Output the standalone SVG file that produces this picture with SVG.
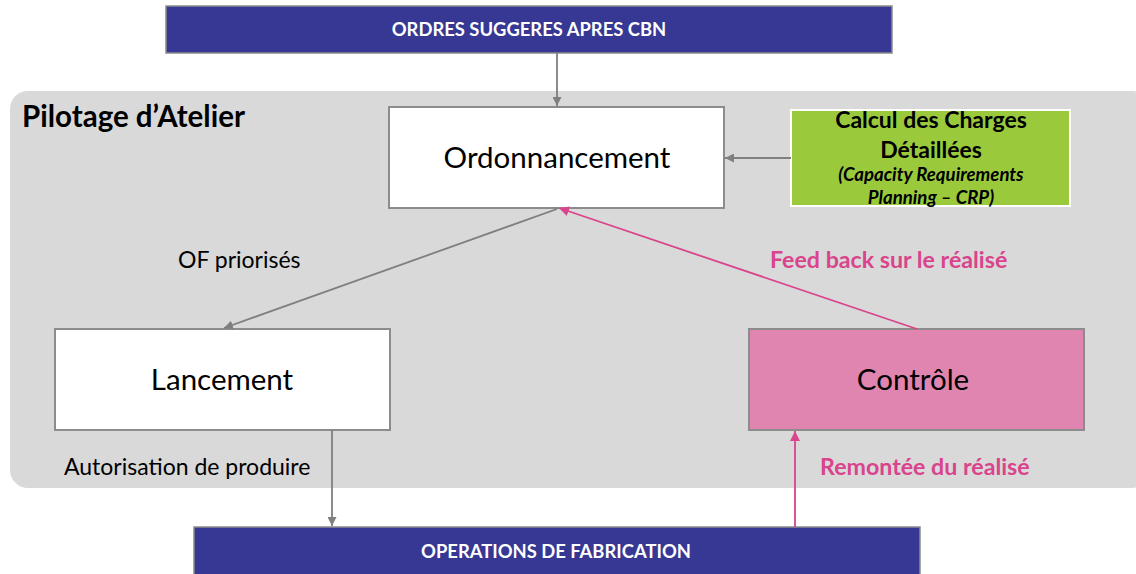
<svg xmlns="http://www.w3.org/2000/svg" width="1136" height="574" viewBox="0 0 1136 574">
  <defs>
    <marker id="arrGray" viewBox="0 0 10 10" refX="10" refY="5" markerWidth="9" markerHeight="9" markerUnits="userSpaceOnUse" orient="auto">
      <path d="M0,0 L10,5 L0,10 z" fill="#7f7f7f"/>
    </marker>
    <marker id="arrPink" viewBox="0 0 10 10" refX="10" refY="5" markerWidth="10" markerHeight="10" markerUnits="userSpaceOnUse" orient="auto">
      <path d="M0,0 L10,5 L0,10 z" fill="#d9448c"/>
    </marker>
  </defs>
  <style>
    text { font-family: Lato, "Open Sans", "Liberation Sans", sans-serif; }
    .band { fill: #363893; stroke: #8c8c8c; stroke-width: 1.5; }
    .bandText { fill: #ffffff; font-weight: bold; font-size: 18.4px; text-anchor: middle; }
    .box { stroke: #8c8c8c; stroke-width: 2; }
    .boxText { fill: #000000; font-size: 29.5px; text-anchor: middle; }
    .label { fill: #000000; font-size: 23px; }
    .pinkLabel { fill: #d9448c; font-size: 23.2px; font-weight: bold; }
    .crpTitle { fill: #000000; font-size: 23px; font-weight: bold; text-anchor: middle; }
    .crpSub { fill: #000000; font-size: 18.6px; font-weight: bold; font-style: italic; text-anchor: middle; }
    .gray { stroke: #7f7f7f; stroke-width: 1.8; fill: none; }
    .pink { stroke: #d9448c; stroke-width: 1.8; fill: none; }
  </style>

  <rect width="1136" height="574" fill="#ffffff"/>

  <!-- workshop control area -->
  <g id="pilotage">
    <rect x="10" y="91" width="1140" height="397" rx="18" ry="18" fill="#d9d9d9"/>
    <text x="22" y="127" font-size="29.5" font-weight="bold" fill="#000">Pilotage d’Atelier</text>
  </g>

  <g id="ordres">
    <rect class="band" x="166" y="6" width="726" height="47"/>
    <text class="bandText" x="529" y="36">ORDRES SUGGERES APRES CBN</text>
  </g>

  <g id="ordonnancement">
    <rect class="box" x="389" y="107" width="335" height="101" fill="#ffffff"/>
    <text class="boxText" x="557" y="168">Ordonnancement</text>
  </g>

  <g id="crp">
    <rect x="791" y="110" width="279" height="96" fill="#9aca3c" stroke="#ffffff" stroke-width="2"/>
    <text class="crpTitle" x="931" y="128">Calcul des Charges</text>
    <text class="crpTitle" x="931" y="158">Détaillées</text>
    <text class="crpSub" x="931" y="181">(Capacity Requirements</text>
    <text class="crpSub" x="931" y="204">Planning – CRP)</text>
  </g>

  <g id="lancement">
    <rect class="box" x="55" y="329" width="335" height="101" fill="#ffffff"/>
    <text class="boxText" x="222" y="390">Lancement</text>
  </g>

  <g id="controle">
    <rect class="box" x="749" y="329" width="335" height="101" fill="#e085b0"/>
    <text class="boxText" x="913" y="390">Contrôle</text>
  </g>

  <g id="operations">
    <rect class="band" x="194" y="527" width="726" height="48"/>
    <text class="bandText" x="556" y="558">OPERATIONS DE FABRICATION</text>
  </g>

  <g id="connectors">
    <line class="gray" x1="557" y1="53" x2="557" y2="106" marker-end="url(#arrGray)"/>
    <line class="gray" x1="791" y1="158" x2="725" y2="158" marker-end="url(#arrGray)"/>
    <line class="gray" x1="557" y1="209" x2="224" y2="328" marker-end="url(#arrGray)"/>
    <line class="gray" x1="332" y1="430" x2="332" y2="526" marker-end="url(#arrGray)"/>
    <line class="pink" x1="917" y1="329" x2="559" y2="208" marker-end="url(#arrPink)"/>
    <line class="pink" x1="795" y1="527" x2="795" y2="431" marker-end="url(#arrPink)"/>
  </g>

  <g id="labels">
    <text class="label" x="178" y="268">OF priorisés</text>
    <text class="label" x="64" y="475">Autorisation de produire</text>
    <text class="pinkLabel" x="770" y="268">Feed back sur le réalisé</text>
    <text class="pinkLabel" x="820" y="475">Remontée du réalisé</text>
  </g>
</svg>
